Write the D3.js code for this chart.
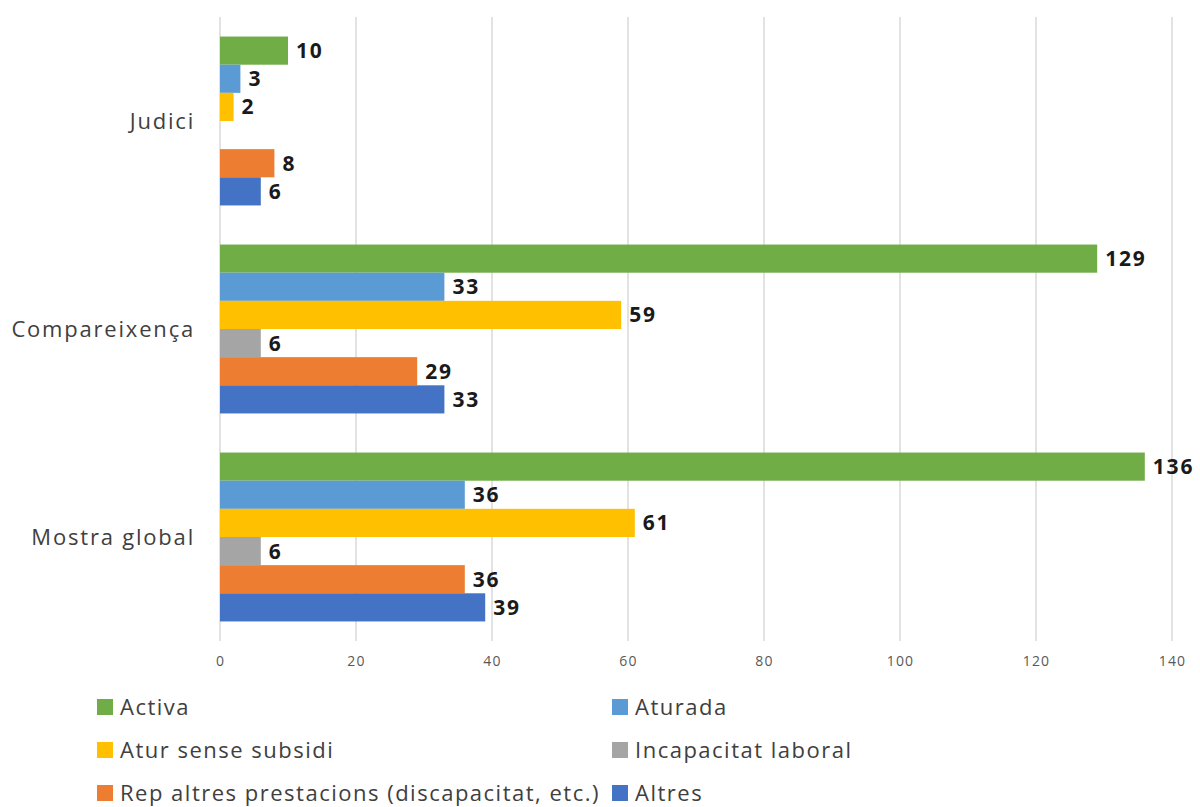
<!DOCTYPE html>
<html><head><meta charset="utf-8">
<script src="https://cdn.jsdelivr.net/npm/d3@7"></script>
<style>body{margin:0;background:#fff;} text{font-family:"Open Sans", sans-serif;}</style>
</head><body>
<svg id="chart" width="1200" height="807"></svg>
<script>
const categories = ["Judici", "Compareixença", "Mostra global"];
const seriesNames = ["Activa", "Aturada", "Atur sense subsidi", "Incapacitat laboral", "Rep altres prestacions (discapacitat, etc.)", "Altres"];
const seriesColors = ["#70AD47", "#5B9BD5", "#FFC000", "#A5A5A5", "#ED7D31", "#4472C4"];
const activa = [10, 129, 136];
const aturada = [3, 33, 36];
const aturSenseSubsidi = [2, 59, 61];
const incapacitatLaboral = [null, 6, 6];
const repAltresPrestacions = [8, 29, 36];
const altres = [6, 33, 39];
const xTicks = [0, 20, 40, 60, 80, 100, 120, 140];

const seriesValues = [activa, aturada, aturSenseSubsidi, incapacitatLaboral, repAltresPrestacions, altres];

const svg = d3.select("#chart");
const x = d3.scaleLinear().domain([0, 140]).range([220, 1172]);
const y0 = d3.scaleBand().domain(categories).range([17, 641]).paddingInner(0.188).paddingOuter(0.094);
const y1 = d3.scaleBand().domain(seriesNames).range([0, y0.bandwidth()]);

// grid
svg.append("g").selectAll("line").data(xTicks).join("line")
  .attr("x1", d => x(d)).attr("x2", d => x(d))
  .attr("y1", 17).attr("y2", 641)
  .attr("stroke", "#d9d9d9").attr("stroke-width", 1.5);

// axis labels
const xAxis = d3.axisBottom(x).tickValues(xTicks).tickSize(0).tickPadding(0);
const ax = svg.append("g").attr("transform", "translate(0,656)").call(xAxis);
ax.select(".domain").remove();
ax.selectAll("text").attr("fill", "#595959").style("font-size", "14px")
  .style("font-family", "'Open Sans', sans-serif").style("letter-spacing", "1.2px");

// bars
const rows = [];
categories.forEach((c, ci) => seriesNames.forEach((s, si) => {
  rows.push({c, s, si, v: seriesValues[si][ci]});
}));
const data = rows.filter(d => d.v !== null);
svg.append("g").selectAll("rect").data(data).join("rect")
  .attr("x", x(0))
  .attr("y", d => y0(d.c) + y1(d.s))
  .attr("width", d => x(d.v) - x(0))
  .attr("height", y1.bandwidth())
  .attr("fill", d => seriesColors[d.si]);

svg.append("g").selectAll("text").data(data).join("text")
  .attr("x", d => x(d.v) + 8)
  .attr("y", d => y0(d.c) + y1(d.s) + y1.bandwidth() / 2)
  .attr("dy", "0.36em")
  .attr("fill", "#1a1a1a")
  .style("font-size", "21px").style("font-weight", "bold").style("letter-spacing", "1.8px")
  .text(d => d.v);

// category labels
svg.append("g").selectAll("text").data(categories).join("text")
  .attr("x", 195)
  .attr("y", d => y0(d) + y0.bandwidth() / 2)
  .attr("dy", "0.36em")
  .attr("text-anchor", "end")
  .attr("fill", "#404040")
  .style("font-size", "22px").style("letter-spacing", "1.8px")
  .text(d => d);

// legend
const legendPos = seriesNames.map((s, i) => ({s, i, col: i % 2, row: Math.floor(i / 2)}));
const lg = svg.append("g").selectAll("g").data(legendPos).join("g")
  .attr("transform", d => `translate(${d.col ? 612 : 97},${707 + d.row * 43})`);
lg.append("rect").attr("x", 0).attr("y", -8).attr("width", 16).attr("height", 16).attr("fill", d => seriesColors[d.i]);
lg.append("text").attr("x", 23).attr("dy", "0.36em").attr("fill", "#404040")
  .style("font-size", "22px").style("letter-spacing", "1.5px").text(d => d.s);
</script>
</body></html>
